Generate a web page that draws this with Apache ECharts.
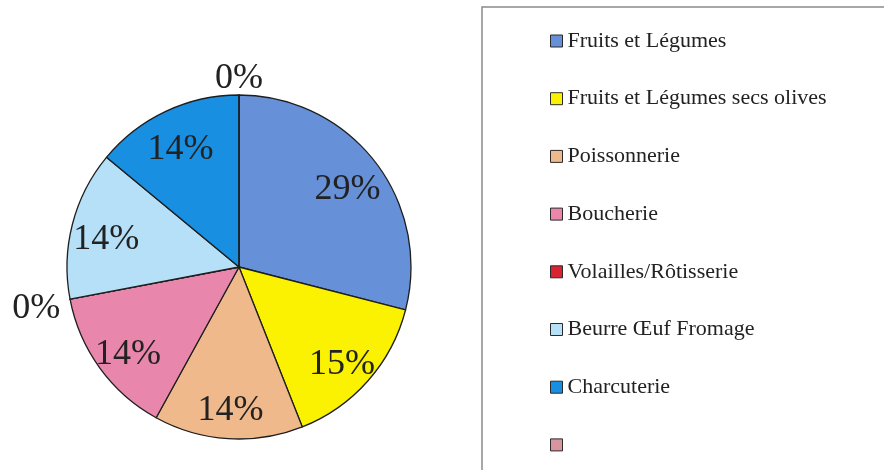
<!DOCTYPE html>
<html>
<head>
<meta charset="utf-8">
<script src="https://cdn.jsdelivr.net/npm/echarts@6/dist/echarts.min.js"></script>
<style>
html,body{margin:0;padding:0;background:#fff;}
#chart{width:884px;height:470px;}
</style>
</head>
<body>
<div id="chart"></div>
<script>
// ---- data ----
const categories = ['Fruits et Légumes', 'Fruits et Légumes secs olives', 'Poissonnerie', 'Boucherie', 'Volailles/Rôtisserie', 'Beurre Œuf Fromage', 'Charcuterie', ' '];
const values = [29, 15, 14, 14, 0, 14, 14, 0];
const colors = ['#6690d8', '#faf200', '#f0b98b', '#e986ab', '#d92232', '#b6e0f7', '#188fe0', '#d8949f'];

const SERIF = '"Liberation Serif", "Times New Roman", "DejaVu Serif", serif';
const CX = 239, CY = 267, R = 172;

const mainData = categories.map((name, i) => ({
  name: name,
  value: values[i],
  itemStyle: { color: colors[i] },
  label: { show: values[i] === 0 },
  labelLine: { length: i === categories.length - 1 ? 16 : 4, length2: 0 }
}));
const overlayData = categories.map((name, i) => ({
  name: name,
  value: values[i],
  label: { show: values[i] !== 0 }
}));

const chart = echarts.init(document.getElementById('chart'), null, { renderer: 'canvas' });
chart.setOption({
  animation: false,
  backgroundColor: '#ffffff',
  graphic: [{
    type: 'rect',
    shape: { x: 482, y: 7, width: 520, height: 520 },
    style: { fill: 'none', stroke: '#8a8a8a', lineWidth: 1.5 },
    z: 0
  }],
  legend: {
    orient: 'vertical',
    left: 545,
    top: 25,
    itemWidth: 12,
    itemHeight: 12,
    itemGap: 35.7,
    icon: 'rect',
    selectedMode: false,
    data: categories.map((c, i) => ({ name: c, itemStyle: { color: colors[i], borderColor: '#2a2a2a', borderWidth: 1 } })),
    textStyle: { fontFamily: SERIF, fontSize: 22, lineHeight: 22, color: '#222' }
  },
  series: [{
    type: 'pie',
    center: [CX, CY],
    radius: [0, R],
    startAngle: 90,
    clockwise: true,
    avoidLabelOverlap: false,
    percentPrecision: 0,
    data: mainData,
    itemStyle: { borderColor: '#1e1e1e', borderWidth: 1.3 },
    label: {
      position: 'outside',
      formatter: '{d}%',
      fontFamily: SERIF,
      fontSize: 36,
      color: '#222',
      distanceToLabelLine: 0
    },
    labelLine: { show: false },
    labelLayout: function (p) {
      if (p.dataIndex === categories.length - 1) return { align: 'center' };
      return { dx: -6, dy: 9 };
    },
    emphasis: { disabled: true }
  }, {
    type: 'pie',
    center: [CX, CY],
    radius: [0, R * 1.56],
    startAngle: 90,
    clockwise: true,
    silent: true,
    avoidLabelOverlap: false,
    percentPrecision: 0,
    data: overlayData,
    itemStyle: { color: 'rgba(0,0,0,0)', borderWidth: 0 },
    label: {
      position: 'inside',
      formatter: '{d}%',
      fontFamily: SERIF,
      fontSize: 36,
      color: '#222'
    },
    labelLine: { show: false },
    labelLayout: function () { return { dy: 7 }; },
    emphasis: { disabled: true }
  }]
});
</script>
</body>
</html>
